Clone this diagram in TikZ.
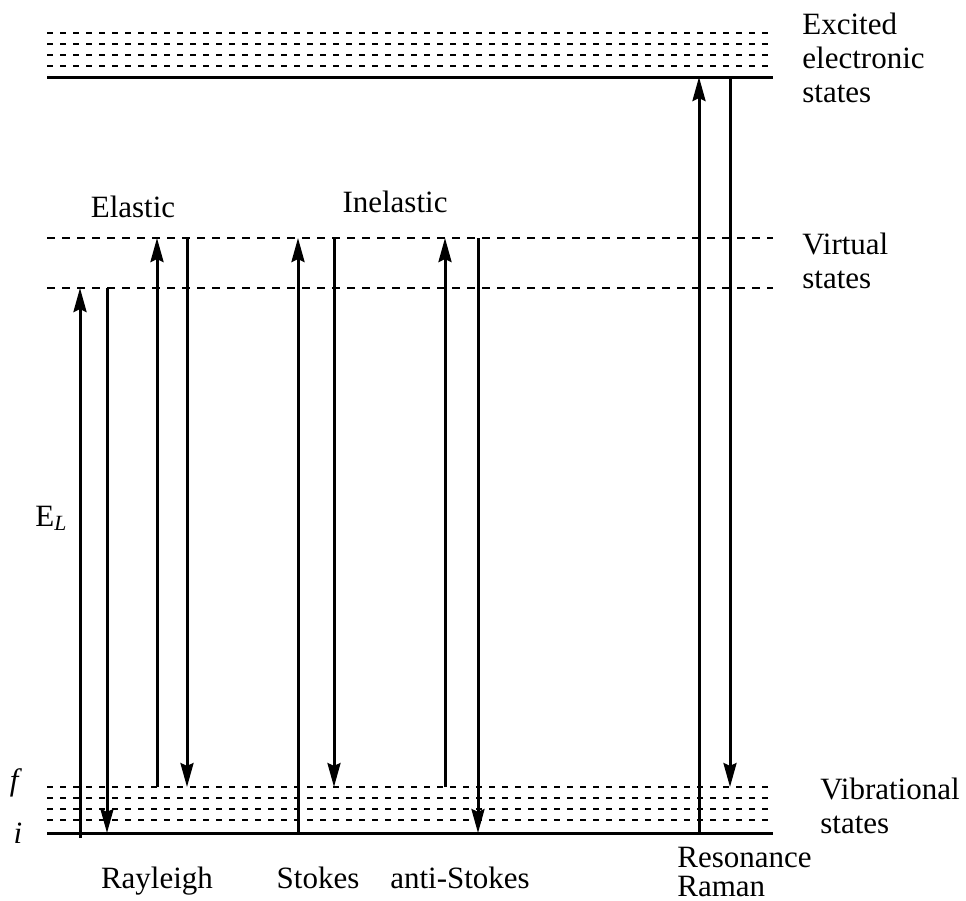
\documentclass[tikz,border=0pt]{standalone}
\usepackage{fontspec}
\setmainfont{Liberation Serif}
\usetikzlibrary{arrows.meta}
\tikzstyle{level} = [line width=1.5pt]
\tikzstyle{sublevel} = [line width=1.1pt, dash pattern=on 3pt off 3.5pt]
\tikzstyle{virtual} = [line width=1.1pt, dash pattern=on 4pt off 3.5pt]
\tikzstyle{trans} = [line width=1.5pt, -{Stealth[length=12pt,width=6.5pt,inset=1.5pt]}]
\tikzstyle{lbl} = [
    font=\fontsize{15.5}{17}\selectfont,
    inner sep=0pt,
    align=left
    ]

\begin{document}
\begin{tikzpicture}[x=0.5pt, y=-0.5pt]
\useasboundingbox (0,0) rectangle (966,901);
% levels
\coordinate (left) at (47,0);
\coordinate (right) at (773,0);
\coordinate (exc) at (0,77);
\coordinate (vhi) at (0,238);
\coordinate (vlo) at (0,288);
\coordinate (vib) at (0,787);
\coordinate (gnd) at (0,833);
\coordinate (below) at (0,838);
\coordinate (e1) at (0,33);
\coordinate (e2) at (0,44);
\coordinate (e3) at (0,55);
\coordinate (e4) at (0,66);
\coordinate (v2) at (0,798);
\coordinate (v3) at (0,809);
\coordinate (v4) at (0,820);

\draw[sublevel] (left |- e1) -- (right |- e1);
\draw[sublevel] (left |- e2) -- (right |- e2);
\draw[sublevel] (left |- e3) -- (right |- e3);
\draw[sublevel] (left |- e4) -- (right |- e4);
\draw[level] (left |- exc) -- (right |- exc);
\draw[virtual] (left |- vhi) -- (right |- vhi);
\draw[virtual] (left |- vlo) -- (right |- vlo);
\draw[sublevel] (left |- vib) -- (right |- vib);
\draw[sublevel] (left |- v2) -- (right |- v2);
\draw[sublevel] (left |- v3) -- (right |- v3);
\draw[sublevel] (left |- v4) -- (right |- v4);
\draw[level] (left |- gnd) -- (right |- gnd);

% transitions
\coordinate (rayup) at (80,0);
\coordinate (raydown) at (107,0);
\coordinate (elup) at (157,0);
\coordinate (eldown) at (187,0);
\coordinate (stup) at (298,0);
\coordinate (stdown) at (334,0);
\coordinate (asup) at (445,0);
\coordinate (asdown) at (478,0);
\coordinate (resup) at (699,0);
\coordinate (resdown) at (730,0);

\draw[trans] (rayup |- below) -- (rayup |- vlo);
\draw[trans] (raydown |- vlo) -- (raydown |- gnd);
\draw[trans] (elup |- vib) -- (elup |- vhi);
\draw[trans] (eldown |- vhi) -- (eldown |- vib);
\draw[trans] (stup |- gnd) -- (stup |- vhi);
\draw[trans] (stdown |- vhi) -- (stdown |- vib);
\draw[trans] (asup |- vib) -- (asup |- vhi);
\draw[trans] (asdown |- vhi) -- (asdown |- gnd);
\draw[trans] (resup |- gnd) -- (resup |- exc);
\draw[trans] (resdown |- exc) -- (resdown |- vib);

% labels
\node[lbl, anchor=west] (excited) at (802,58) {Excited\\electronic\\states};
\node[lbl, anchor=west] (virtstates) at (802,261) {Virtual\\states};
\node[lbl, anchor=west] (vibstates) at (820,806) {Vibrational\\states};
\node[lbl, anchor=base] (elastic) at (133,217) {Elastic};
\node[lbl, anchor=base] (inelastic) at (395,212) {Inelastic};
\node[lbl, anchor=base west] (energy) at (35,526) {E\textsubscript{\textit{L}}};
\node[lbl] (final) at (16,783) {\textit{f}};
\node[lbl] (initial) at (18,833) {\textit{i}};
\node[lbl, anchor=base] (rayleigh) at (157,888) {Rayleigh};
\node[lbl, anchor=base] (stokes) at (318,888) {Stokes};
\node[lbl, anchor=base] (antistokes) at (460,888) {anti-Stokes};
\node[lbl, anchor=west, font=\fontsize{15.5}{14.5}\selectfont] (resonance) at (677,872) {Resonance\\Raman};
\end{tikzpicture}
\end{document}
